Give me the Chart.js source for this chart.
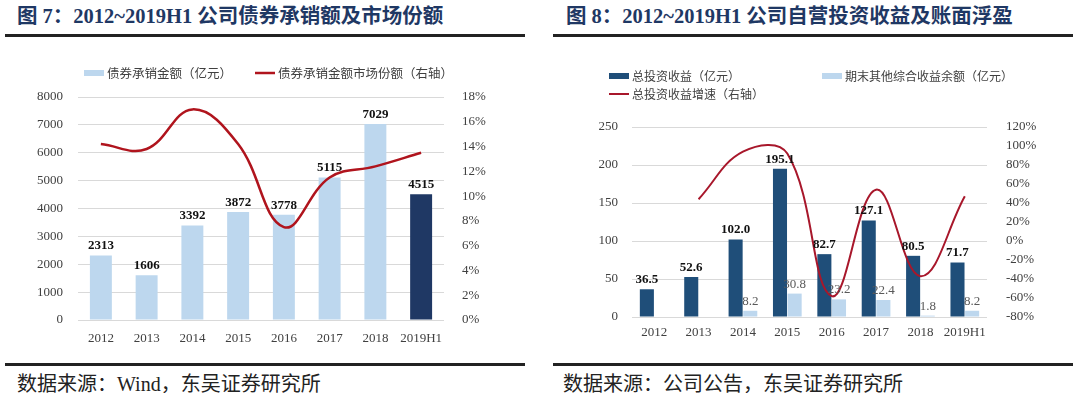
<!DOCTYPE html>
<html>
<head>
<meta charset="utf-8">
<script src="https://cdn.jsdelivr.net/npm/chart.js@4.4.1/dist/chart.umd.min.js"></script>
<style>
    body { margin: 0; width: 1080px; height: 393px; background: #fff; position: relative; overflow: hidden; }
    .title { position: absolute; top: 4px; font: bold 20.5px 'Liberation Serif', 'Noto Sans CJK SC', serif; color: #1f3864; line-height: 24px; white-space: nowrap; }
    .rule { position: absolute; height: 2.5px; background: #222; }
    .source { position: absolute; top: 372px; font: 20px 'Liberation Serif', 'Noto Sans CJK SC', serif; color: #222; line-height: 24px; white-space: nowrap; }
    canvas { position: absolute; }
</style>
</head>
<body>
<div class="title" style="left:17px">图 7：2012~2019H1 公司债券承销额及市场份额</div>
<div class="rule" style="left:5px;width:520px;top:34px"></div>
<canvas id="chartA" width="530" height="318" style="left:0;top:40px"></canvas>
<div class="rule" style="left:5px;width:520px;top:363px"></div>
<div class="source" style="left:17px">数据来源：Wind，东吴证券研究所</div>

<div class="title" style="left:566px">图 8：2012~2019H1 公司自营投资收益及账面浮盈</div>
<div class="rule" style="left:553px;width:520px;top:34px"></div>
<canvas id="chartB" width="540" height="318" style="left:540px;top:40px"></canvas>
<div class="rule" style="left:553px;width:520px;top:363px"></div>
<div class="source" style="left:563px">数据来源：公司公告，东吴证券研究所</div>

<script>
// 数据
const years = ['2012', '2013', '2014', '2015', '2016', '2017', '2018', '2019H1'];
const bondAmount = [2313, 1606, 3392, 3872, 3778, 5115, 7029, 4515];
const bondShare = [14.2, 13.8, 17.0, 14.2, 7.5, 11.5, 12.4, 13.5];
const investIncome = [36.5, 52.6, 102.0, 195.1, 82.7, 127.1, 80.5, 71.7];
const otherIncome = [null, null, 8.2, 30.8, 23.2, 22.4, 1.8, 8.2];
const incomeGrowth = [null, 44, 94, 92, -58, 54, -37, 47];

// 坐标轴范围 [min, max, step]
const amountTicks = [0, 8000, 1000];
const shareTicks = [0, 18, 2];
const incomeTicks = [0, 250, 50];
const growthTicks = [-80, 120, 20];

// 样式
const LIGHT = '#bdd7ee';
const NAVY_A = '#1f3864';
const NAVY_B = '#1f4e79';
const RED_A = '#b0141d';
const RED_B = '#a8172b';
const GRID = '#d9d9d9';
const TICK_FONT = { family: "'Liberation Serif', serif", size: 13 };
const TICK_COLOR = '#404040';
const LEGEND_FONT = "'Noto Sans CJK SC', sans-serif";

// 柱顶数值
const valueLabels = {
    id: 'valueLabels',
    afterDatasetsDraw(chart) {
        const ctx = chart.ctx;
        ctx.save();
        ctx.textAlign = 'center';
        ctx.textBaseline = 'bottom';
        chart.data.datasets.forEach((ds, i) => {
            if (!ds.valueLabel) return;
            const meta = chart.getDatasetMeta(i);
            ctx.font = ds.valueLabel.font;
            ctx.fillStyle = ds.valueLabel.color;
            meta.data.forEach((bar, j) => {
                const v = ds.data[j];
                if (v == null) return;
                ctx.fillText(ds.valueLabel.format(v), bar.x, bar.y - 3);
            });
        });
        ctx.restore();
    }
};

// 图例（固定位置）
const pinnedLegend = {
    id: 'pinnedLegend',
    afterDraw(chart, args, opts) {
        const ctx = chart.ctx;
        ctx.save();
        ctx.font = opts.size + 'px ' + LEGEND_FONT;
        ctx.textBaseline = 'middle';
        ctx.textAlign = 'left';
        opts.items.forEach((it) => {
            const ds = chart.data.datasets[it.ds];
            if (ds.type == 'line') {
                ctx.strokeStyle = ds.borderColor;
                ctx.lineWidth = ds.borderWidth;
                ctx.beginPath();
                ctx.moveTo(it.x, it.y);
                ctx.lineTo(it.x + opts.boxWidth, it.y);
                ctx.stroke();
            } else {
                ctx.fillStyle = Array.isArray(ds.backgroundColor) ? ds.backgroundColor[0] : ds.backgroundColor;
                ctx.fillRect(it.x, it.y - opts.boxHeight / 2, opts.boxWidth, opts.boxHeight);
            }
            ctx.fillStyle = '#404040';
            ctx.fillText(ds.label, it.x + opts.boxWidth + 3, it.y + 0.5);
        });
        ctx.restore();
    }
};

function valueAxis(range, width, padding, format, extra = {}) {
    return Object.assign({
        min: range[0],
        max: range[1],
        ticks: { stepSize: range[2], autoSkip: false, font: TICK_FONT, color: TICK_COLOR, padding: padding, callback: format },
        grid: { color: GRID, drawTicks: false },
        border: { display: false },
        afterFit: (s) => { s.width = width; }
    }, extra);
}

function categoryAxis(padding) {
    return {
        grid: { display: false, drawTicks: false },
        border: { display: false },
        ticks: { font: TICK_FONT, color: TICK_COLOR, padding: padding, maxRotation: 0, autoSkip: false },
        afterFit: (s) => { s.height = 30; }
    };
}

const plain = (v) => String(v);
const percent = (v) => v + '%';

new Chart(document.getElementById('chartA'), {
    type: 'bar',
    data: {
        labels: years,
        datasets: [{
            type: 'line',
            label: '债券承销金额市场份额（右轴）',
            data: bondShare,
            yAxisID: 'y1',
            borderColor: RED_A,
            borderWidth: 2.5,
            pointRadius: 0,
            tension: 0.4,
            order: 0
        }, {
            label: '债券承销金额（亿元）',
            data: bondAmount,
            yAxisID: 'y',
            backgroundColor: years.map((y, i) => i == years.length - 1 ? NAVY_A : LIGHT),
            categoryPercentage: 0.8,
            barPercentage: 0.6,
            order: 1,
            valueLabel: { font: "bold 13px 'Liberation Serif', serif", color: '#111', format: (v) => String(v) }
        }]
    },
    options: {
        responsive: false,
        animation: false,
        devicePixelRatio: 1,
        layout: { padding: { top: 57, left: 0, right: 30, bottom: 8 } },
        plugins: {
            legend: { display: false },
            tooltip: { enabled: false },
            pinnedLegend: {
                size: 12.5, boxWidth: 20, boxHeight: 6,
                items: [{ ds: 1, x: 84, y: 33 }, { ds: 0, x: 255, y: 33 }]
            }
        },
        scales: {
            x: categoryAxis(11),
            y: valueAxis(amountTicks, 78, 15, plain),
            y1: valueAxis(shareTicks, 56, 10, percent, { position: 'right', grid: { display: false } })
        }
    },
    plugins: [valueLabels, pinnedLegend]
});

new Chart(document.getElementById('chartB'), {
    type: 'bar',
    data: {
        labels: years,
        datasets: [{
            type: 'line',
            label: '总投资收益增速（右轴）',
            data: incomeGrowth,
            yAxisID: 'y1',
            borderColor: RED_B,
            borderWidth: 2,
            pointRadius: 0,
            tension: 0.4,
            order: 0
        }, {
            label: '总投资收益（亿元）',
            data: investIncome,
            yAxisID: 'y',
            backgroundColor: NAVY_B,
            categoryPercentage: 0.66,
            barPercentage: 0.96,
            order: 1,
            valueLabel: { font: "bold 13px 'Liberation Serif', serif", color: '#111', format: (v) => v.toFixed(1) }
        }, {
            label: '期末其他综合收益余额（亿元）',
            data: otherIncome,
            yAxisID: 'y',
            backgroundColor: LIGHT,
            categoryPercentage: 0.66,
            barPercentage: 0.96,
            order: 2,
            valueLabel: { font: "13px 'Liberation Serif', serif", color: '#595959', format: (v) => v.toFixed(1) }
        }]
    },
    options: {
        responsive: false,
        animation: false,
        devicePixelRatio: 1,
        layout: { padding: { top: 87, left: 0, right: 33, bottom: 11 } },
        plugins: {
            legend: { display: false },
            tooltip: { enabled: false },
            pinnedLegend: {
                size: 12, boxWidth: 20, boxHeight: 6,
                items: [{ ds: 1, x: 69, y: 36 }, { ds: 2, x: 282, y: 36 }, { ds: 0, x: 69, y: 54 }]
            }
        },
        scales: {
            x: categoryAxis(8),
            y: valueAxis(incomeTicks, 92, 14, plain),
            y1: valueAxis(growthTicks, 60, 11, percent, { position: 'right', grid: { display: false } })
        }
    },
    plugins: [valueLabels, pinnedLegend]
});
</script>
</body>
</html>
